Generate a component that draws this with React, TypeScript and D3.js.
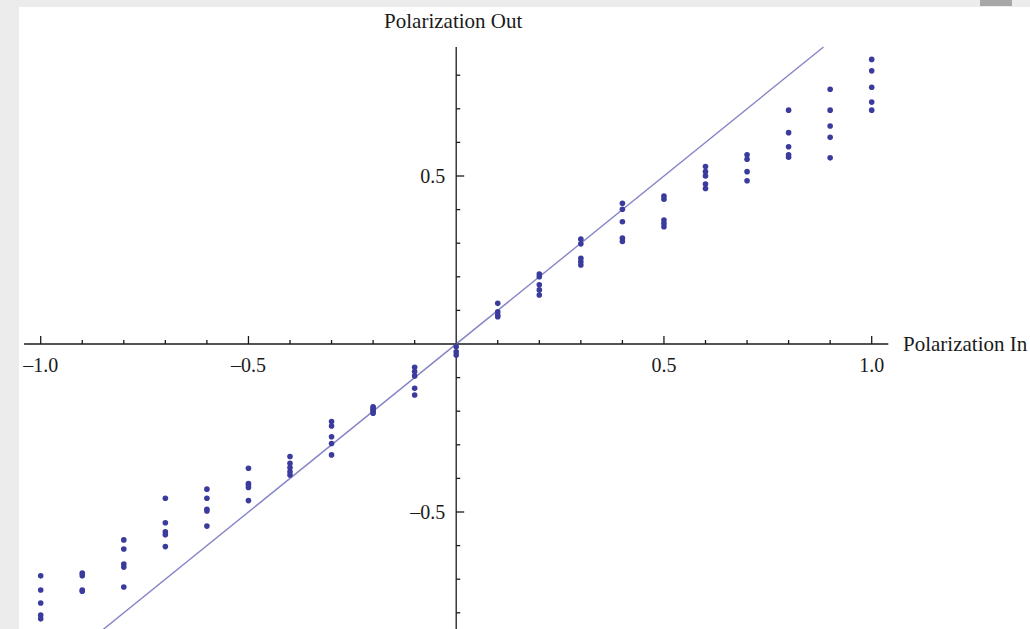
import React from "react";
import { scaleLinear, line } from "d3";

// input polarization settings (one column of repeated measurements each)
const POL_IN = [-1.0, -0.9, -0.8, -0.7, -0.6, -0.5, -0.4, -0.3, -0.2, -0.1, 0, 0.1, 0.2, 0.3, 0.4, 0.5, 0.6, 0.7, 0.8, 0.9, 1.0];

// measured output polarization, one list per input value
const POL_OUT: number[][] = [
  [-0.69, -0.732, -0.771, -0.807, -0.818],
  [-0.682, -0.69, -0.732, -0.736],
  [-0.583, -0.61, -0.655, -0.664, -0.723],
  [-0.459, -0.532, -0.559, -0.568, -0.603],
  [-0.432, -0.459, -0.492, -0.497, -0.542],
  [-0.37, -0.415, -0.42, -0.427, -0.466],
  [-0.335, -0.355, -0.368, -0.38, -0.39],
  [-0.231, -0.244, -0.276, -0.296, -0.33],
  [-0.187, -0.192, -0.196, -0.2, -0.206],
  [-0.069, -0.082, -0.095, -0.132, -0.152],
  [-0.008, -0.023, -0.033],
  [0.121, 0.096, 0.086, 0.081],
  [0.208, 0.2, 0.176, 0.161, 0.146],
  [0.312, 0.298, 0.255, 0.245, 0.235],
  [0.419, 0.401, 0.364, 0.315, 0.305],
  [0.44, 0.431, 0.369, 0.359, 0.349],
  [0.528, 0.513, 0.5, 0.476, 0.463],
  [0.563, 0.55, 0.513, 0.486],
  [0.696, 0.629, 0.587, 0.563, 0.556],
  [0.758, 0.696, 0.649, 0.615, 0.554],
  [0.847, 0.813, 0.764, 0.72, 0.696],
];

const X_LABELS = [-1.0, -0.5, 0.5, 1.0];
const Y_LABELS = [0.5, -0.5];
const IDEAL = [-0.87, 0.884]; // y = x reference line

const WIDTH = 1030;
const HEIGHT = 629;
const FONT = "'Liberation Serif', 'DejaVu Serif', serif";
const DOT = "#3b3b9d";

const fmt = (v: number) => (v < 0 ? "\u2013" : "") + Math.abs(v).toFixed(1);

export default function App() {
  const x = scaleLinear().domain([-1, 1]).range([40.7, 871.7]);
  const y = scaleLinear().domain([0, 0.5]).range([344, 176]);

  const x0 = x(0);
  const y0 = y(0);

  const xMinor = x.ticks(20).filter((t) => Math.abs(t) > 1e-9);
  const yMinor = scaleLinear().domain([-0.9, 0.9]).ticks(18).filter((t) => Math.abs(t) > 1e-9 && y(t) > 47 && y(t) < HEIGHT);
  const isMajor = (t: number) => Math.abs(Math.round(t * 2) - t * 2) < 1e-6;

  const idealPath = line<number>()
    .x((d) => x(d))
    .y((d) => y(d))(IDEAL) || "";

  const points = POL_IN.flatMap((xin, i) => POL_OUT[i].map((v, j) => ({ key: `${i}-${j}`, xin, v })));

  return (
    <svg
      width={WIDTH}
      height={HEIGHT}
      style={{ position: "absolute", left: 0, top: 0, display: "block" }}
      fontFamily={FONT}
    >
      <rect x={0} y={0} width={WIDTH} height={HEIGHT} fill="#ececec" />
      <rect x={19} y={7} width={WIDTH - 19} height={HEIGHT - 7} fill="#ffffff" />
      <rect x={980} y={0} width={32} height={6} fill="#7a7a7a" opacity={0.6} />

      {/* axes */}
      <g stroke="#1a1a1a" strokeWidth={1.3}>
        <line x1={x(-1.04)} x2={x(1.04)} y1={y0} y2={y0} />
        <line x1={x0} x2={x0} y1={47} y2={HEIGHT} />
        {xMinor.map((t) => (
          <line key={`xt${t}`} x1={x(t)} x2={x(t)} y1={y0} y2={y0 - (isMajor(t) ? 8 : 4)} />
        ))}
        {yMinor.map((t) => (
          <line key={`yt${t}`} x1={x0} x2={x0 + (isMajor(t) ? 8 : 4)} y1={y(t)} y2={y(t)} />
        ))}
      </g>

      {/* tick labels */}
      <g fontSize={20} fill="#1a1a1a">
        {X_LABELS.map((t) => (
          <text key={`xl${t}`} x={x(t)} y={y0 + 28} textAnchor="middle">
            {fmt(t)}
          </text>
        ))}
        {Y_LABELS.map((t) => (
          <text key={`yl${t}`} x={x0 - 11} y={y(t) + 7} textAnchor="end">
            {fmt(t)}
          </text>
        ))}
      </g>
      <g fontSize={21} fill="#1a1a1a">
        <text x={903} y={y0 + 7}>Polarization In</text>
        <text x={x0 - 3} y={28} textAnchor="middle">Polarization Out</text>
      </g>

      {/* ideal y = x */}
      <path d={idealPath} fill="none" stroke="#5c5cb4" strokeOpacity={0.75} strokeWidth={1.4} />

      {/* measurements */}
      <g fill={DOT}>
        {points.map((p) => (
          <circle key={p.key} cx={x(p.xin)} cy={y(p.v)} r={2.8} />
        ))}
      </g>
    </svg>
  );
}
